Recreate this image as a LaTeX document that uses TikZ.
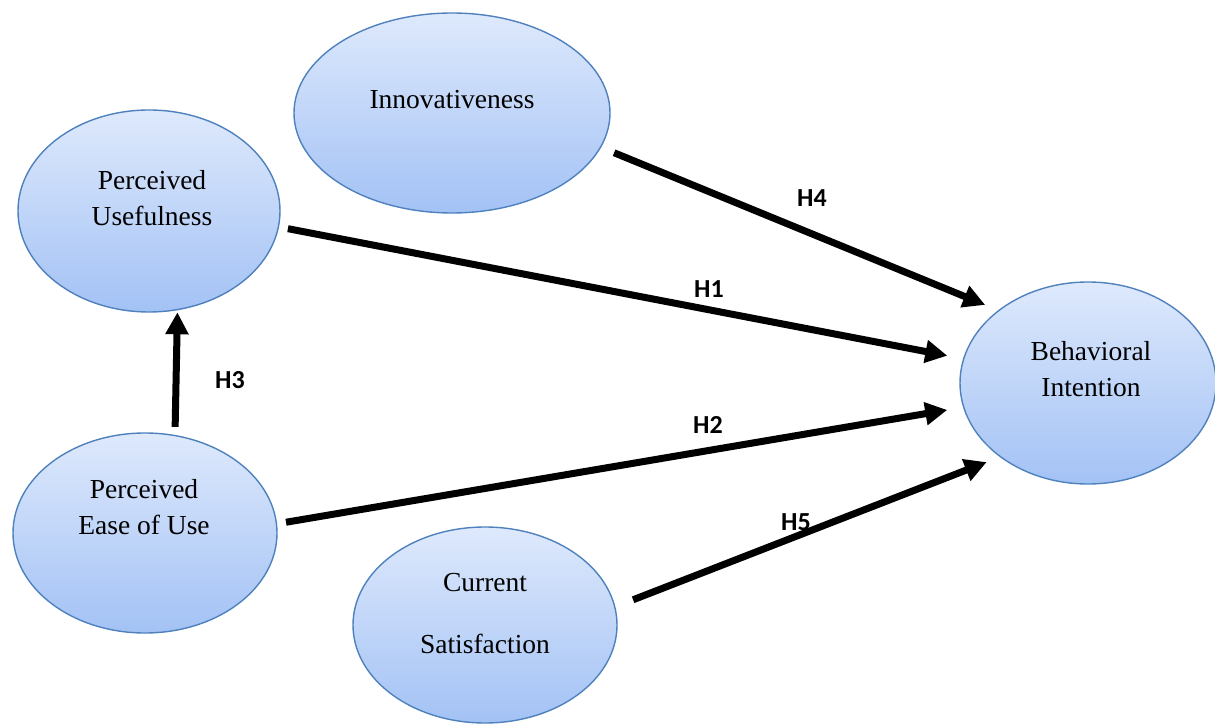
\documentclass[tikz,border=0pt]{standalone}
\usepackage{fontspec}
\setmainfont{Liberation Serif}
\newfontfamily\hypfont{Carlito}
\usetikzlibrary{arrows.meta,shapes.geometric}
\definecolor{varline}{HTML}{4F81BD}
\definecolor{vartop}{HTML}{DEE9FC}
\definecolor{varbot}{HTML}{A3C2F5}

\begin{document}
\begin{tikzpicture}[x=0.5pt,y=-0.5pt,
  my var/.style={
    ellipse, draw=varline, line width=0.7pt,
    top color=vartop, bottom color=varbot,
    inner sep=0pt,
  },
  my text/.style={align=center, font=\fontsize{13.75}{18}\selectfont},
  my arrow/.style={line width=3.5pt, -{Triangle[length=11pt,width=11pt]}},
  my hyp/.style={font=\hypfont\bfseries\fontsize{13}{15}\selectfont}]
  \useasboundingbox (0,0) rectangle (1215,727);
  \node[my var, minimum width=158pt, minimum height=100pt] (inn) at (452,113) {};
  \node[my var, minimum width=131pt, minimum height=101pt] (pu) at (149,211) {};
  \node[my var, minimum width=132pt, minimum height=100pt] (peou) at (145,533) {};
  \node[my var, minimum width=132pt, minimum height=98pt] (cs) at (485,625) {};
  \node[my var, minimum width=128pt, minimum height=101pt] (bi) at (1088,383) {};
  \node[my text] (inn-t) at (452,100) {Innovativeness};
  \node[my text] (pu-t) at (152,198) {Perceived\\Usefulness};
  \node[my text] (peou-t) at (144,507) {Perceived\\Ease of Use};
  \node[my text] (cs-t) at (485,614) {Current\\[13pt]Satisfaction};
  \node[my text] (bi-t) at (1091,369) {Behavioral\\Intention};
  \draw[my arrow, shorten <=7pt, shorten >=7pt] (inn.-13.6) -- (bi.141.6);
  \draw[my arrow, shorten <=4.5pt, shorten >=8pt] (pu.-7.8) -- (bi.169.5);
  \draw[my arrow, shorten <=4.5pt, shorten >=8pt] (peou.4.9) -- (bi.191);
  \draw[my arrow, shorten <=9.5pt, shorten >=7pt] (cs.8) -- (bi.220);
  \draw[my arrow, shorten <=4pt, shorten >=1pt] (peou.73.5) -- (pu.-74.9);
  \node[my hyp] (h4) at (812,198) {H4};
  \node[my hyp] (h1) at (709,289) {H1};
  \node[my hyp] (h2) at (708,425) {H2};
  \node[my hyp] (h5) at (796,522) {H5};
  \node[my hyp] (h3) at (230,380) {H3};
\end{tikzpicture}
\end{document}
